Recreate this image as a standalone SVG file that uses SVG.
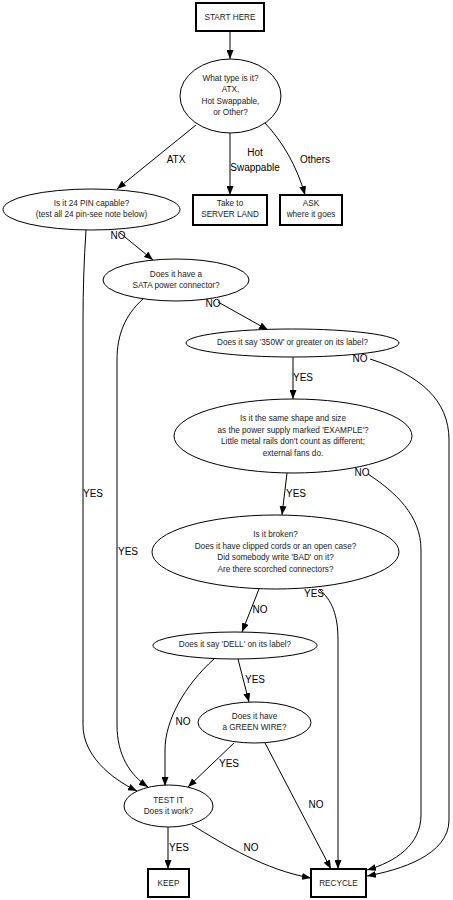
<svg xmlns="http://www.w3.org/2000/svg" width="453" height="900" viewBox="0 0 453 900">
<defs>
<marker id="arr" markerUnits="userSpaceOnUse" markerWidth="9" markerHeight="7" viewBox="0 0 9 7" refX="9" refY="3.5" orient="auto">
<path d="M0,0 L9,3.5 L0,7 z" fill="#000"/>
</marker>
<style>
.box{fill:#fff;stroke:#000;stroke-width:2}
.ell{fill:#fff;stroke:#000;stroke-width:1}
.nt{font-family:"Liberation Sans",Arial,sans-serif;font-size:8.2px;fill:#222;text-anchor:middle}
.el{font-family:"Liberation Sans",Arial,sans-serif;font-size:10px;fill:#000;text-anchor:middle}
.e{fill:none;stroke:#000;stroke-width:1;marker-end:url(#arr)}
</style>
</defs>
<rect width="453" height="900" fill="#fff"/>
<g id="connectors">
<path class="e" d="M230,31 L230,59"/>
<path class="e" d="M196,125 L117,189"/>
<path class="e" d="M230,133 L230,195"/>
<path class="e" d="M265,123 C282,141 297,166 305,195"/>
<path class="e" d="M120,233 L153,260"/>
<path class="e" d="M86,230 C84,260 83,290 83,320 L83,725 C83,755 110,778 137,791"/>
<path class="e" d="M143,299 C125,315 117,335 117,360 L117,725 C117,755 130,775 148,787"/>
<path class="e" d="M218,302 L268,330"/>
<path class="e" d="M293,357 L293,399"/>
<path class="e" d="M370,359 C420,375 449,400 449,440 L449,820 C449,855 400,870 367,876"/>
<path class="e" d="M287,473 L282,515"/>
<path class="e" d="M368,474 C395,492 421,515 421,550 L421,815 C421,845 395,862 367,870"/>
<path class="e" d="M259,589 L242,632"/>
<path class="e" d="M319,589 C332,600 338,615 338,640 L338,869"/>
<path class="e" d="M238,659 L249,702"/>
<path class="e" d="M214,659 C185,685 165,720 165,750 L165,786"/>
<path class="e" d="M234,743 L188,787"/>
<path class="e" d="M265,743 L331,869"/>
<path class="e" d="M168,827 L168,869"/>
<path class="e" d="M192,825 C225,845 265,870 311,878"/>
<text class="el" x="176" y="163">ATX</text>
<text class="el" x="255" y="156">Hot</text>
<text class="el" x="255" y="171">Swappable</text>
<text class="el" x="315" y="163">Others</text>
<text class="el" x="118" y="239">NO</text>
<text class="el" x="213" y="307">NO</text>
<text class="el" x="303" y="381">YES</text>
<text class="el" x="360" y="362">NO</text>
<text class="el" x="362" y="476">NO</text>
<text class="el" x="93" y="497">YES</text>
<text class="el" x="296" y="497">YES</text>
<text class="el" x="128" y="555">YES</text>
<text class="el" x="314" y="597">YES</text>
<text class="el" x="260" y="613">NO</text>
<text class="el" x="255" y="683">YES</text>
<text class="el" x="183" y="725">NO</text>
<text class="el" x="229" y="767">YES</text>
<text class="el" x="316" y="808">NO</text>
<text class="el" x="179" y="851">YES</text>
<text class="el" x="251" y="851">NO</text>
</g>
<g id="start"><rect class="box" x="196" y="3" width="68" height="28"/><text class="nt" x="230" y="20">START HERE</text></g>
<g id="type"><ellipse class="ell" cx="230.5" cy="96" rx="50.5" ry="37"/>
<text class="nt" x="230.5" y="81">What type is it?</text><text class="nt" x="230.5" y="92">ATX,</text><text class="nt" x="230.5" y="104">Hot Swappable,</text><text class="nt" x="230.5" y="115">or Other?</text></g>
<g id="pin24"><ellipse class="ell" cx="91.5" cy="209.5" rx="88.5" ry="20.5"/>
<text class="nt" x="91.5" y="206">Is it 24 PIN capable?</text><text class="nt" x="91.5" y="217">(test all 24 pin-see note below)</text></g>
<g id="server"><rect class="box" x="193" y="195" width="74" height="30"/>
<text class="nt" x="230" y="206">Take to</text><text class="nt" x="230" y="217">SERVER LAND</text></g>
<g id="ask"><rect class="box" x="280" y="195" width="62" height="30"/>
<text class="nt" x="311" y="206">ASK</text><text class="nt" x="311" y="217">where it goes</text></g>
<g id="sata"><ellipse class="ell" cx="176" cy="280" rx="73" ry="21"/>
<text class="nt" x="176" y="277">Does it have a</text><text class="nt" x="176" y="288">SATA power connector?</text></g>
<g id="w350"><ellipse class="ell" cx="292.5" cy="343" rx="106.5" ry="14"/>
<text class="nt" x="292.5" y="345">Does it say '350W' or greater on its label?</text></g>
<g id="shape"><ellipse class="ell" cx="293" cy="436" rx="119" ry="37"/>
<text class="nt" x="293" y="421">Is it the same shape and size</text><text class="nt" x="293" y="433">as the power supply marked 'EXAMPLE'?</text><text class="nt" x="293" y="444">Little metal rails don't count as different;</text><text class="nt" x="293" y="456">external fans do.</text></g>
<g id="broken"><ellipse class="ell" cx="275.5" cy="552" rx="123.5" ry="37"/>
<text class="nt" x="275.5" y="537">Is it broken?</text><text class="nt" x="275.5" y="549">Does it have clipped cords or an open case?</text><text class="nt" x="275.5" y="560">Did somebody write 'BAD' on it?</text><text class="nt" x="275.5" y="572">Are there scorched connectors?</text></g>
<g id="dell"><ellipse class="ell" cx="235" cy="645.5" rx="82" ry="13.5"/>
<text class="nt" x="235" y="647">Does it say 'DELL' on its label?</text></g>
<g id="green"><ellipse class="ell" cx="254.5" cy="722.5" rx="56.5" ry="20.5"/>
<text class="nt" x="254.5" y="719">Does it have</text><text class="nt" x="254.5" y="730">a GREEN WIRE?</text></g>
<g id="test"><ellipse class="ell" cx="168.5" cy="806" rx="44.5" ry="21"/>
<text class="nt" x="168.5" y="803">TEST IT</text><text class="nt" x="168.5" y="814">Does it work?</text></g>
<g id="keep"><rect class="box" x="148" y="869" width="41" height="28"/><text class="nt" x="168.5" y="886">KEEP</text></g>
<g id="recycle"><rect class="box" x="311" y="869" width="55" height="28"/><text class="nt" x="338.5" y="886">RECYCLE</text></g>
</svg>
